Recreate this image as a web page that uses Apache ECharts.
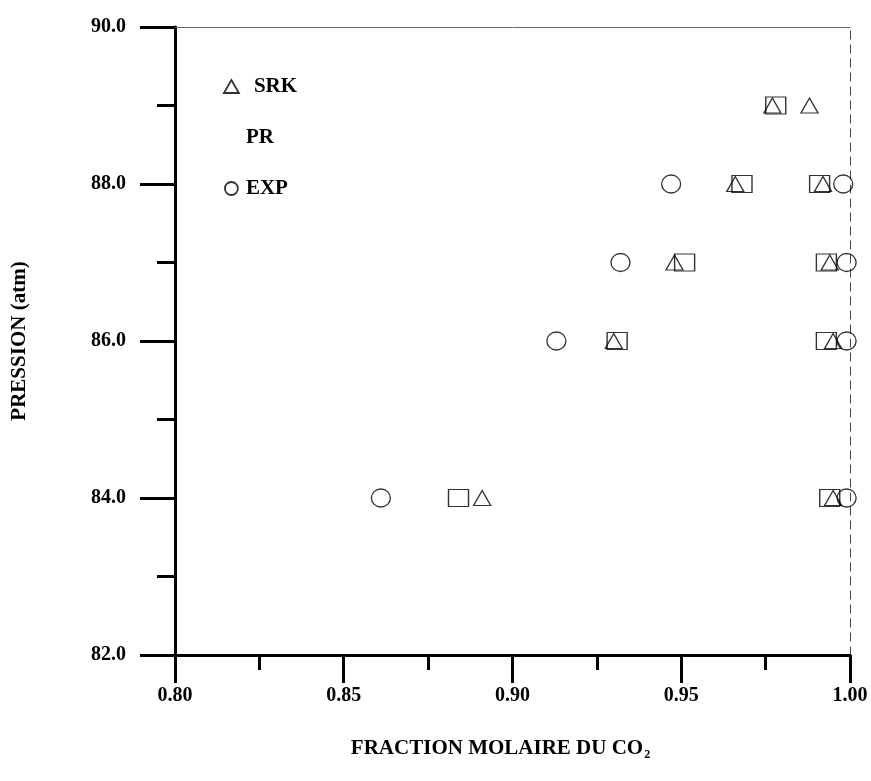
<!DOCTYPE html>
<html>
<head>
<meta charset="utf-8">
<script src="https://cdn.jsdelivr.net/npm/echarts@6/dist/echarts.min.js"></script>
<style>
html,body{margin:0;padding:0;background:#fff;}
#chart{width:871px;height:781px;}
</style>
</head>
<body>
<div id="chart"></div>
<script>
// Data
const fractionEXP = [0.861, 0.913, 0.932, 0.947, 0.998, 0.999, 0.999, 0.999];
const pressionEXP = [84, 86, 87, 88, 88, 87, 86, 84];

const fractionSRK = [0.891, 0.930, 0.948, 0.966, 0.977, 0.988, 0.992, 0.994, 0.995, 0.995];
const pressionSRK = [84, 86, 87, 88, 89, 89, 88, 87, 86, 84];

const fractionPR = [0.884, 0.931, 0.951, 0.968, 0.978, 0.991, 0.993, 0.993, 0.994];
const pressionPR = [84, 86, 87, 88, 89, 88, 87, 86, 84];

const seriesNames = ['SRK', 'PR', 'EXP'];

function pairs(xs, ys) { return xs.map((x, i) => [x, ys[i]]); }

const FONT = 'Liberation Serif';
const chart = echarts.init(document.getElementById('chart'), null, {renderer: 'canvas'});

const markerStyle = {color: 'rgba(0,0,0,0)', borderColor: '#000', borderWidth: 1.3};

chart.setOption({
  animation: false,
  backgroundColor: '#fff',
  grid: {left: 175, right: 21, top: 27, bottom: 126, containLabel: false},
  legend: {
    orient: 'vertical',
    left: 218,
    top: 71,
    itemGap: 30,
    itemWidth: 15,
    itemHeight: 13,
    textStyle: {fontFamily: FONT, fontWeight: 'bold', fontSize: 21, color: '#000'},
    data: [
      {name: 'SRK', icon: 'triangle', textStyle: {padding: [0, 0, 0, 10]}},
      {name: 'PR', icon: 'none', textStyle: {padding: [0, 0, 0, 2]}},
      {name: 'EXP', icon: 'circle', textStyle: {padding: [0, 0, 0, 2]}}
    ],
    itemStyle: {color: 'rgba(0,0,0,0)', borderColor: '#000', borderWidth: 1.8}
  },
  xAxis: [{
    type: 'value',
    min: 0.80,
    max: 1.00,
    interval: 0.05,
    name: '{a|FRACTION MOLAIRE DU CO}{s|2}',
    nameLocation: 'middle',
    nameGap: 82,
    nameTextStyle: {
      padding: [0, 24, 0, 0],
      rich: {
        a: {fontFamily: FONT, fontWeight: 'bold', fontSize: 21, color: '#000'},
        s: {fontFamily: FONT, fontWeight: 'bold', fontSize: 12, color: '#000', padding: [12, 0, 0, 1]}
      }
    },
    axisLine: {onZero: false, lineStyle: {color: '#000', width: 3}},
    axisTick: {length: 28, lineStyle: {color: '#000', width: 3}},
    minorTick: {show: true, splitNumber: 2, length: 15, lineStyle: {color: '#000', width: 3}},
    splitLine: {show: false},
    axisLabel: {
      margin: 31,
      fontFamily: FONT, fontWeight: 'bold', fontSize: 20, color: '#000',
      formatter: v => v.toFixed(2)
    }
  }, {
    type: 'value',
    position: 'top',
    min: 0.80,
    max: 1.00,
    axisLine: {show: true, lineStyle: {color: '#666', width: 1}},
    axisTick: {show: false},
    axisLabel: {show: false},
    splitLine: {show: false}
  }],
  yAxis: [{
    type: 'value',
    min: 82,
    max: 90,
    interval: 2,
    name: 'PRESSION (atm)',
    nameLocation: 'middle',
    nameGap: 145,
    nameRotate: 90,
    nameTextStyle: {fontFamily: FONT, fontWeight: 'bold', fontSize: 21, color: '#000'},
    axisLine: {onZero: false, lineStyle: {color: '#000', width: 3}},
    axisTick: {length: 35, lineStyle: {color: '#000', width: 3}},
    minorTick: {show: true, splitNumber: 2, length: 18, lineStyle: {color: '#000', width: 3}},
    splitLine: {show: false},
    axisLabel: {
      margin: 49,
      fontFamily: FONT, fontWeight: 'bold', fontSize: 20, color: '#000',
      formatter: v => v.toFixed(1)
    }
  }, {
    type: 'value',
    position: 'right',
    min: 82,
    max: 90,
    axisLine: {show: true, lineStyle: {color: '#444', width: 1, type: [8, 6]}},
    axisTick: {show: false},
    axisLabel: {show: false},
    splitLine: {show: false}
  }],
  series: [
    {
      name: seriesNames[0], type: 'scatter', symbol: 'triangle', symbolSize: [17, 15],
      itemStyle: markerStyle, z: 4,
      data: pairs(fractionSRK, pressionSRK)
    },
    {
      name: seriesNames[1], type: 'scatter', symbol: 'rect', symbolSize: [20, 17],
      itemStyle: markerStyle, z: 3,
      data: pairs(fractionPR, pressionPR)
    },
    {
      name: seriesNames[2], type: 'scatter', symbol: 'circle', symbolSize: [19, 18],
      itemStyle: markerStyle, z: 3,
      data: pairs(fractionEXP, pressionEXP)
    }
  ]
});
</script>
</body>
</html>
